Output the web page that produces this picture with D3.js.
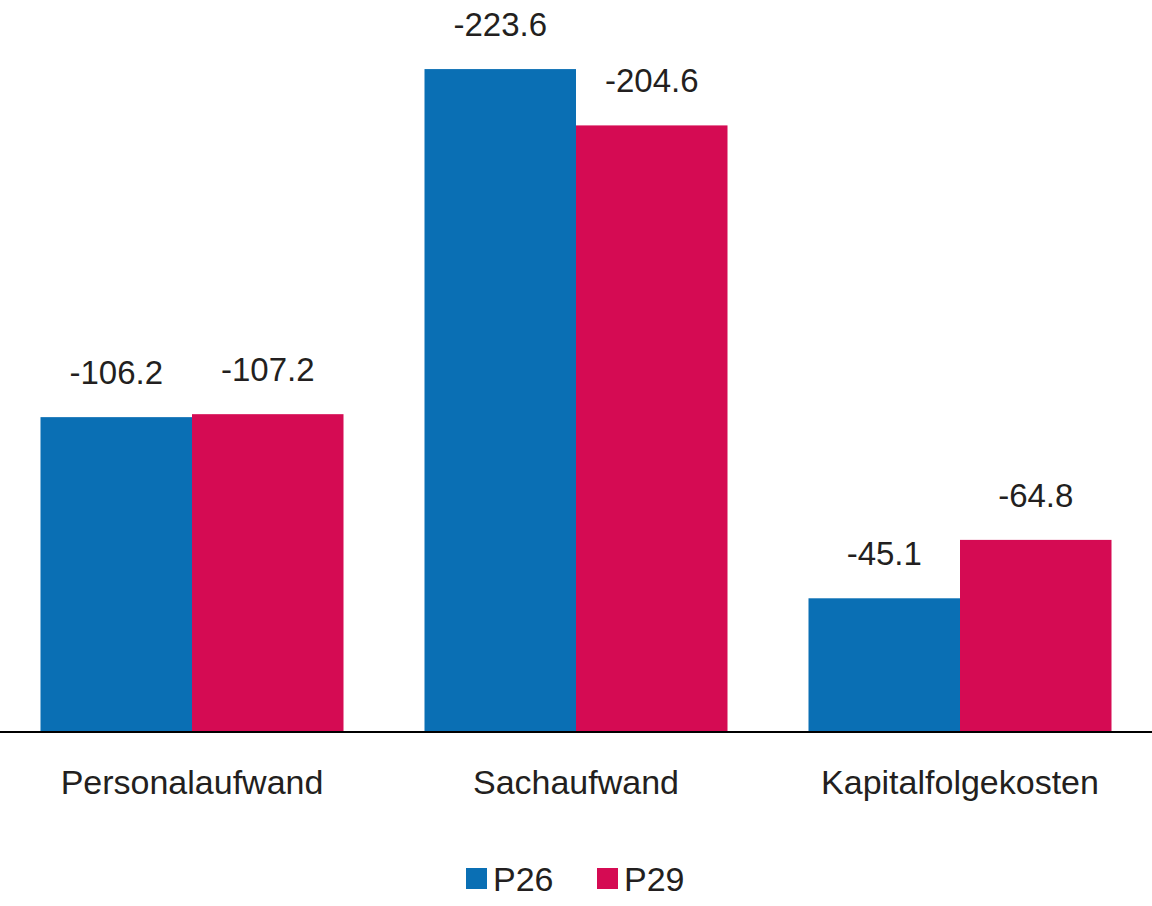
<!DOCTYPE html>
<html>
  <head>
    <meta charset="utf-8" />
    <script src="https://d3js.org/d3.v7.min.js"></script>
    <style>
      body { margin: 0; background: #fff; }
      text { font-family: "Liberation Sans", Arial, sans-serif; fill: #231f20; }
    </style>
  </head>
  <body>
    <div id="chart"></div>
    <script>
      var categories = ["Personalaufwand", "Sachaufwand", "Kapitalfolgekosten"];
      var seriesNames = ["P26", "P29"];
      var p26 = [-106.2, -223.6, -45.1];
      var p29 = [-107.2, -204.6, -64.8];
      var colors = ["#0a6fb4", "#d50b53"];

      var width = 1152, height = 906, base = 732;

      var svg = d3.select("#chart").append("svg")
        .attr("width", width).attr("height", height);

      var x0 = d3.scaleBand().domain(categories).range([0, width]).paddingInner(0).paddingOuter(0);
      var x1 = d3.scaleBand().domain(seriesNames).range([0, 303]);
      var y = d3.scaleLinear().domain([0, 246.9]).range([base, 0]);

      var data = [];
      categories.forEach(function (c, i) {
        data.push({ cat: c, s: "P26", v: p26[i], k: 0 });
        data.push({ cat: c, s: "P29", v: p29[i], k: 1 });
      });
      var off = (x0.bandwidth() - 303) / 2;

      svg.selectAll("rect.bar").data(data).enter().append("rect")
        .attr("x", function (d) { return x0(d.cat) + off + x1(d.s); })
        .attr("y", function (d) { return y(-d.v); })
        .attr("width", x1.bandwidth())
        .attr("height", function (d) { return base - y(-d.v); })
        .attr("fill", function (d) { return colors[d.k]; });

      svg.selectAll("text.val").data(data).enter().append("text")
        .attr("x", function (d) { return x0(d.cat) + off + x1(d.s) + x1.bandwidth() / 2; })
        .attr("y", function (d) { return y(-d.v) - 33; })
        .attr("text-anchor", "middle")
        .style("font-size", "33px")
        .text(function (d) { return d.v.toFixed(1); });

      svg.append("line").attr("x1", 0).attr("x2", width)
        .attr("y1", base).attr("y2", base)
        .attr("stroke", "#000").attr("stroke-width", 2);

      svg.selectAll("text.cat").data(categories).enter().append("text")
        .attr("x", function (d) { return x0(d) + x0.bandwidth() / 2; })
        .attr("y", 794)
        .attr("text-anchor", "middle")
        .style("font-size", "34px")
        .text(function (d) { return d; });

      var legendX = [466, 597];
      seriesNames.forEach(function (s, i) {
        svg.append("rect").attr("x", legendX[i]).attr("y", 868)
          .attr("width", 21).attr("height", 21).attr("fill", colors[i]);
        svg.append("text").attr("x", legendX[i] + 27).attr("y", 891)
          .style("font-size", "34px").text(s);
      });
    </script>
  </body>
</html>
